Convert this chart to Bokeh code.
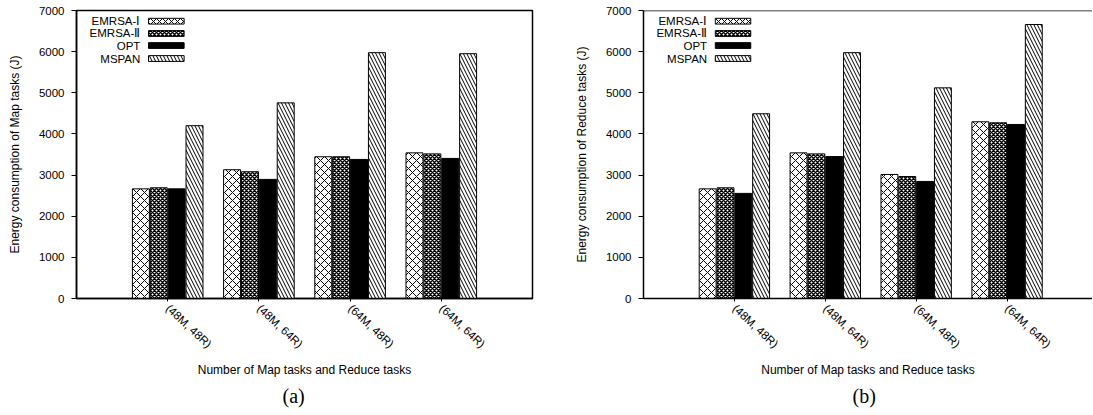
import numpy as np
from bokeh.plotting import figure
from bokeh.models import Range1d, FixedTicker, Label, BoxAnnotation, Span, Title
from bokeh.layouts import row
from bokeh.embed import file_html
from bokeh.resources import INLINE

# ---------------- data ----------------
categories = ["(48M, 48R)", "(48M, 64R)", "(64M, 48R)", "(64M, 64R)"]
series = ["EMRSA-Ⅰ", "EMRSA-Ⅱ", "OPT", "MSPAN"]

map_emrsa1 = [2665, 3130, 3445, 3540]
map_emrsa2 = [2690, 3080, 3445, 3515]
map_opt = [2665, 2895, 3380, 3405]
map_mspan = [4200, 4755, 5975, 5950]

red_emrsa1 = [2665, 3540, 3015, 4295]
red_emrsa2 = [2690, 3515, 2965, 4270]
red_opt = [2555, 3450, 2845, 4230]
red_mspan = [4490, 5975, 5120, 6660]

y_ticks = [0, 1000, 2000, 3000, 4000, 5000, 6000, 7000]

# ---------------- styles ----------------
FONT = "Liberation Sans"
styles = [
    dict(fill_color="white", hatch_pattern="x", hatch_scale=8, hatch_weight=1, hatch_color="black"),
    dict(fill_color="white", hatch_pattern="x", hatch_scale=4, hatch_weight=1.5, hatch_color="black"),
    dict(fill_color="black"),
    dict(fill_color="white", hatch_pattern="\\", hatch_scale=7, hatch_weight=1, hatch_color="black"),
]
PITCH = 0.196
BAR_W = 0.186
LEG_ROWS = [6740, 6441, 6149, 5833]


def make_chart(values, ylabel, tag, width, x_end, border_left, border_right, tag_offset, close_right):
    p = figure(width=width, height=413, x_range=Range1d(0, x_end), y_range=Range1d(0, 7000),
               output_backend="svg", toolbar_location=None,
               min_border_left=border_left, min_border_right=border_right,
               min_border_top=10, min_border_bottom=115)
    p.grid.visible = False
    p.background_fill_color = "white"
    p.border_fill_color = "white"
    if close_right:
        p.outline_line_color = "black"
        p.outline_line_width = 1.5
    else:
        p.outline_line_color = None
        p.add_layout(Span(location=7000, dimension="width", line_color="black", line_width=1.5))

    x = np.arange(1, len(categories) + 1)
    for i, (vals, st) in enumerate(zip(values, styles)):
        p.vbar(x=x + (i - 1.5) * PITCH, top=vals, bottom=0, width=BAR_W,
               line_color="black", line_width=1, **st)

    # axes
    xa = p.xaxis[0]
    xa.ticker = FixedTicker(ticks=list(x))
    xa.major_label_overrides = {int(k): c for k, c in zip(x, categories)}
    xa.major_label_orientation = -0.75
    xa.axis_label = "Number of Map tasks and Reduce tasks"
    ya = p.yaxis[0]
    ya.ticker = FixedTicker(ticks=y_ticks)
    ya.axis_label = ylabel
    for ax in (xa, ya):
        ax.axis_line_color = "black"
        ax.axis_line_width = 1.5
        ax.major_tick_line_color = "black"
        ax.major_tick_out = 5
        ax.major_tick_in = 0
        ax.minor_tick_line_color = None
        ax.major_label_text_font = FONT
        ax.major_label_text_font_size = "11.5px"
        ax.major_label_text_color = "black"
        ax.axis_label_text_font = FONT
        ax.axis_label_text_font_size = "12px"
        ax.axis_label_text_font_style = "normal"
        ax.axis_label_text_color = "black"
    xa.major_tick_out = 3
    xa.major_label_standoff = 5
    xa.axis_label_standoff = 6
    ya.major_label_standoff = 7
    ya.axis_label_standoff = 14

    # legend (label left of swatch)
    for i, name in enumerate(series):
        yc = LEG_ROWS[i]
        p.add_layout(Label(x=0.70, y=yc, text=name, text_align="right", text_baseline="middle",
                           text_font=FONT, text_font_size="11.5px", text_color="black"))
        box = dict(fill_alpha=1, line_color="black", line_alpha=1, line_width=1)
        box.update(styles[i])
        if i == 0:
            box["hatch_scale"] = 6
        p.add_layout(BoxAnnotation(left=0.79, right=1.18, bottom=yc - 70, top=yc + 70, **box))

    p.add_layout(Title(text=tag, align="left", offset=tag_offset, text_font="Liberation Serif",
                       text_font_size="20px", text_font_style="normal", text_color="black",
                       standoff=4), "below")
    return p


left = make_chart([map_emrsa1, map_emrsa2, map_opt, map_mspan],
                  "Energy consumption of Map tasks (J)", "(a)",
                  width=571, x_end=5.0, border_left=76, border_right=39,
                  tag_offset=206, close_right=True)
right = make_chart([red_emrsa1, red_emrsa2, red_opt, red_mspan],
                   "Energy consumption of Reduce tasks (J)", "(b)",
                   width=521, x_end=4.94, border_left=68, border_right=0,
                   tag_offset=209, close_right=False)

layout = row(left, right)
open("out.html", "w").write(file_html(layout, INLINE))
